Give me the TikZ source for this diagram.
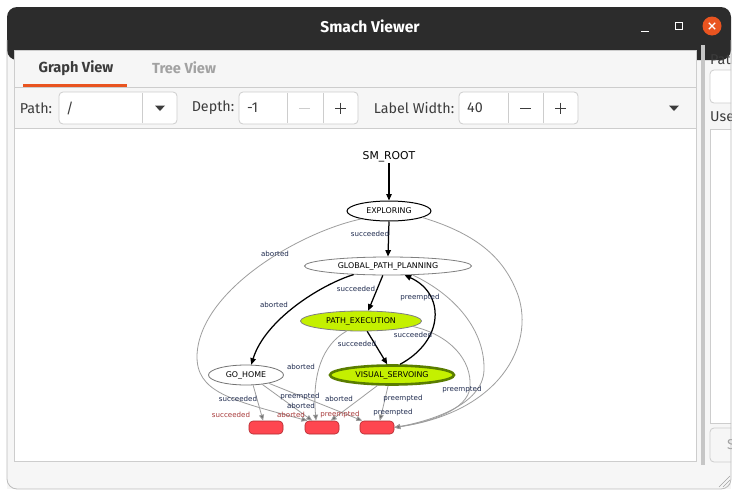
\documentclass[tikz,border=0pt]{standalone}
\usepackage{fontspec}
\setmainfont{Fira Sans}
\newfontfamily\gfont{DejaVu Sans}
\usetikzlibrary{shapes.geometric,arrows.meta}
\definecolor{titlebar}{HTML}{2C2C2C}
\definecolor{bodybg}{HTML}{F6F6F6}
\definecolor{frame}{HTML}{CDCDCD}
\definecolor{winborder}{HTML}{BDBDBD}
\definecolor{uiorange}{HTML}{E95420}
\definecolor{uitext}{HTML}{3C3C3C}
\definecolor{uigray}{HTML}{A2A2A2}
\definecolor{splitbar}{HTML}{C6C6C6}
\definecolor{lime}{HTML}{C4F000}
\definecolor{olive}{HTML}{5A7D00}
\definecolor{labnavy}{HTML}{1E2A4E}
\definecolor{outred}{HTML}{A83A3A}
\definecolor{outfill}{HTML}{FE4650}
\definecolor{outdraw}{HTML}{B02A30}
\definecolor{edgegray}{HTML}{9E9E9E}
\definecolor{arrowgray}{HTML}{6E6E6E}
\begin{document}
\begin{tikzpicture}[x=1pt,y=-1pt,
  gnode/.style={ellipse, inner sep=0pt, font=\gfont\fontsize{7.9}{8}\selectfont, text=black},
  elab/.style={font=\gfont\fontsize{7.1}{7.5}\selectfont, text=labnavy, inner sep=0pt},
  olab/.style={font=\gfont\fontsize{7.1}{7.5}\selectfont, text=outred, inner sep=0pt},
  bedge/.style={draw=black, line width=1.25pt, -{Triangle[length=6.5pt,width=5.5pt]}},
  gedge/.style={draw=edgegray, line width=0.8pt, -{Triangle[length=6pt,width=5pt,fill=arrowgray]}},
  outbox/.style={rectangle, rounded corners=4pt, minimum width=34pt, minimum height=13pt, fill=outfill, draw=outdraw, line width=0.6pt, inner sep=0pt},
  uifont/.style={font=\fontsize{14.3}{16}\selectfont, text=uitext, inner sep=0pt},
  tabfont/.style={font=\bfseries\fontsize{14.6}{16}\selectfont, inner sep=0pt},
  fieldbox/.style={fill=white, draw=frame, line width=0.8pt, rounded corners=4pt},
  divline/.style={draw=frame, line width=0.8pt},
]
\useasboundingbox (0,0) rectangle (740,498);
\fill[white] (0,0) rectangle (740,498);
% window body
\begin{scope}
\clip (7,7) rectangle (731,489);
\fill[bodybg] (7,40) rectangle (731,489);
% title bar
\fill[titlebar, rounded corners=10pt] (7,7) rectangle (731,60);
\fill[titlebar] (7,30) rectangle (731,45);
\node[font=\bfseries\fontsize{15.6}{17}\selectfont, text=white, inner sep=0pt] (title) at (370,26) {Smach Viewer};
\draw[white, line width=1pt] (641,31) -- (649,31);
\draw[white, line width=1pt] (675,22.5) rectangle (682,29.5);
\fill[uiorange] (712,26) circle (9.5);
\draw[white, line width=1.2pt] (708.8,22.8) -- (715.2,29.2) (708.8,29.2) -- (715.2,22.8);
% tab widget frame
\draw[frame, line width=0.8pt, fill=bodybg] (14,50) rectangle (696,461);
\draw[divline] (14,87) -- (696,87);
\fill[uiorange] (23,83.5) rectangle (127,86.5);
\node[tabfont, text=uitext] (tabgraph) at (76,68) {Graph View};
\node[tabfont, text=uigray] (tabtree) at (184,68) {Tree View};
% toolbar
\node[uifont] (pathlbl) at (36,108) {Path:};
\draw[fieldbox] (59,92) rectangle (177,124);
\draw[divline] (142,93) -- (142,123);
\node[uifont, anchor=west] (pathval) at (66,108) {/};
\fill[uitext] (155,105.5) -- (165,105.5) -- (160,111) -- cycle;
\node[uifont] (depthlbl) at (213,108) {Depth:};
\draw[fieldbox] (239,92) rectangle (358,124);
\draw[divline] (287,93) -- (287,123) (323,93) -- (323,123);
\node[uifont, anchor=west] (depthval) at (247,108) {-1};
\draw[frame, line width=1pt] (299,108) -- (310,108);
\draw[uitext, line width=1pt] (335,108) -- (346,108) (340.5,102.5) -- (340.5,113.5);
\node[uifont] (lwlbl) at (414,108) {Label Width:};
\draw[fieldbox] (459,92) rectangle (578,124);
\draw[divline] (508,93) -- (508,123) (543,93) -- (543,123);
\node[uifont, anchor=west] (lwval) at (467,108) {40};
\draw[uitext, line width=1pt] (520,108) -- (531,108);
\draw[uitext, line width=1pt] (555,108) -- (566,108) (560.5,102.5) -- (560.5,113.5);
\fill[uitext] (669,105.5) -- (679,105.5) -- (674,111) -- cycle;
% graph area
\draw[frame, line width=0.8pt, fill=white] (14,128) rectangle (696,461);
% splitter and right panel
\fill[splitbar] (701,45) rectangle (705,465);
\node[uifont, anchor=west] (rpath) at (710,59) {Path};
\draw[fieldbox] (710,70) rectangle (748,103);
\node[uifont, anchor=west] (ruser) at (710,117) {User};
\draw[fill=white, draw=frame, line width=0.8pt] (710,129) rectangle (748,423);
\draw[frame, line width=0.8pt, fill=bodybg, rounded corners=4pt] (710,428) rectangle (748,462);
\node[uifont, text=uigray, anchor=west] (rbtn) at (727,445) {S};
% resize grip
\draw[uigray, line width=0.6pt] (719,487) -- (730,476) (723,487) -- (730,480) (727,487) -- (730,484);
\end{scope}
\draw[winborder, line width=0.8pt, rounded corners=10pt] (7,40) -- (7,489) -- (731,489) -- (731,40);

% ---------- graph ----------
\node[font=\gfont\fontsize{10.8}{11}\selectfont, inner sep=1pt] (root) at (389,157) {SM\_ROOT};
\node[gnode, draw=black, line width=1pt, minimum width=84pt, minimum height=20pt] (expl) at (389,211) {EXPLORING};
\node[gnode, draw=gray, line width=0.8pt, minimum width=167pt, minimum height=18pt] (gpp) at (388,266) {GLOBAL\_PATH\_PLANNING};
\node[gnode, draw=gray, fill=lime, line width=0.8pt, minimum width=121pt, minimum height=20pt] (pe) at (361,321) {PATH\_EXECUTION};
\node[gnode, draw=gray!90!black, line width=0.8pt, minimum width=75pt, minimum height=20pt] (gh) at (246,375) {GO\_HOME};
\node[gnode, draw=olive, fill=lime, line width=2.6pt, minimum width=124pt, minimum height=19pt] (vs) at (392,375) {VISUAL\_SERVOING};
\node[outbox] (b1) at (266,427.5) {};
\node[outbox] (b2) at (322,427.5) {};
\node[outbox] (b3) at (377,427.5) {};

% gray edges
\draw[gedge] (expl.196) .. controls (300,232) and (200,290) .. (197,355) .. controls (196,392) and (230,400) .. (b2.155);
\draw[gedge] (expl.349) .. controls (480,235) and (505,260) .. (518,295) .. controls (535,345) and (500,412) .. (b3.east);
\draw[gedge] (gpp.340) .. controls (455,295) and (485,330) .. (484,370) .. controls (483,405) and (430,421) .. (b3.east);
\draw[gedge] (pe.354) .. controls (450,335) and (472,360) .. (470,387) .. controls (468,410) and (430,422) .. (b3.east);
\draw[gedge] (pe.215) .. controls (322,345) and (312,375) .. (b2.131);
\draw[gedge] (gh.305) -- (b1.113);
\draw[gedge] (gh.330) -- (b2.145);
\draw[gedge] (gh.340) -- (b3.155);
\draw[gedge] (vs.216) -- (b2.38);
\draw[gedge] (vs.250) -- (b3.67);

% black edges
\draw[bedge] (root) -- (expl.north);
\draw[bedge] (expl.south) -- (gpp.north);
\draw[bedge] (gpp.241) -- (pe.55);
\draw[bedge] (gpp.194) .. controls (320,285) and (265,320) .. (gh.63);
\draw[bedge] (pe.301) -- (vs.114);
\draw[bedge] (vs.53) .. controls (445,340) and (445,293) .. (gpp.331);

% edge labels
\node[elab] (l1) at (370,234) {succeeded};
\node[elab] (l2) at (275,254) {aborted};
\node[elab] (l3) at (356,289) {succeeded};
\node[elab] (l4) at (274,305) {aborted};
\node[elab] (l5) at (420,298) {preempted};
\node[elab] (l6) at (357,344) {succeeded};
\node[elab] (l7) at (413,335) {succeeded};
\node[elab] (l8) at (301,367) {aborted};
\node[elab] (l9) at (462,390) {preempted};
\node[elab] (l10) at (238,399) {succeeded};
\node[elab] (l11) at (300,397) {preempted};
\node[elab] (l12) at (301,406) {aborted};
\node[elab] (l13) at (339,399) {aborted};
\node[elab] (l14) at (403,399) {preempted};
\node[elab] (l15) at (393,413) {preempted};
\node[olab] (o1) at (231,415) {succeeded};
\node[olab] (o2) at (291,415) {aborted};
\node[olab] (o3) at (340,415) {preempted};
\end{tikzpicture}
\end{document}
